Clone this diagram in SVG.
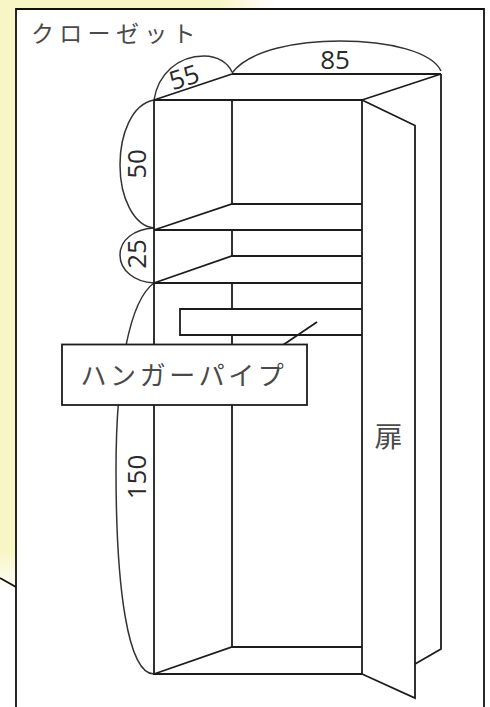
<svg xmlns="http://www.w3.org/2000/svg" width="490" height="707" viewBox="0 0 490 707">
<defs>
<linearGradient id="fadeV" x1="0" y1="0" x2="0" y2="1"><stop offset="0" stop-color="#f9f6c6"/><stop offset="0.92" stop-color="#f9f6c6"/><stop offset="0.99" stop-color="#ffffff"/></linearGradient>
<linearGradient id="fadeH" x1="0" y1="0" x2="1" y2="0"><stop offset="0" stop-color="#f9f6c6"/><stop offset="0.8" stop-color="#f9f6c6"/><stop offset="1" stop-color="#ffffff"/></linearGradient>
</defs>
<style>
.l{fill:none;stroke:#1c1c1c;stroke-width:1.8}
.a{fill:none;stroke:#333;stroke-width:1.5}
.f{fill:none;stroke:#111;stroke-width:1.8}
.n{font-family:"Open Sans","Noto Sans",sans-serif;font-size:26px;fill:#2a2a2a;text-anchor:middle}
.j{font-family:"Noto Sans CJK JP",sans-serif;fill:#4a4a4a}
</style>
<rect width="490" height="707" fill="#fff"/>
<rect x="0" y="0" width="16" height="600" fill="url(#fadeV)"/>
<rect x="0" y="0" width="275" height="9" fill="url(#fadeH)"/>
<g id="frame">
<path class="f" d="M0 578L16 587"/>
<path class="f" d="M16 707V9H484V707"/>
<text class="j" x="31" y="42" font-size="23" letter-spacing="5.300">クローゼット</text>
</g>
<g id="connectors">
<path class="a" d="M154 100C158 74 178 56 204 56C218 56 228 63 232 72"/>
<path class="a" d="M232 73C250 49 300 41 340 41C390 41 432 52 441 71"/>
<path class="a" d="M154 100C132 104 120 134 120 165C120 198 134 226 154 228"/>
<path class="a" d="M154 228C134 229 120 240 120 255C120 270 134 282 154 283"/>
<path class="a" d="M154 283C130 300 116 370 116 470C116 590 128 674 154 674"/>
</g>
<g id="closet">
<path class="l" d="M154 100H362M232 74H441M154 100L232 74M362 100L441 74"/>
<path class="l" d="M154 100V344M154 405V674H362M232 100V204M232 230V256M232 283V309M232 335V344M232 405V647"/>
<path class="l" d="M154 230L232 204H362M154 230H362M154 283L232 256H362M154 283H362M154 674L232 647H362"/>
<path class="l" d="M441 74V649L415 664"/>
</g>
<g id="pipe">
<path class="l" d="M362 335H180V309H362"/>
<path class="l" d="M317 322L283 345"/>
</g>
<g id="door">
<path class="l" d="M362 100V674L415 698V125.500L362 100"/>
<text class="j" x="388.500" y="447" font-size="28" text-anchor="middle">扉</text>
</g>
<g id="label-hanger">
<rect x="62" y="344.500" width="245" height="60.500" fill="#fff" stroke="#1c1c1c" stroke-width="1.8"/>
<text class="j" x="80.500" y="385" font-size="26" letter-spacing="3.600">ハンガーパイプ</text>
</g>
<g id="dim-85"><text class="n" x="335" y="69">85</text></g>
<g id="dim-55"><text class="n" transform="translate(187 86) rotate(-18)" x="0" y="0">55</text></g>
<g id="dim-50"><text class="n" transform="translate(146 164) rotate(-90)" x="0" y="0">50</text></g>
<g id="dim-25"><text class="n" transform="translate(146 254) rotate(-90)" x="0" y="0">25</text></g>
<g id="dim-150"><text class="n" transform="translate(146 477) rotate(-90)" x="0" y="0">150</text></g>
</svg>
